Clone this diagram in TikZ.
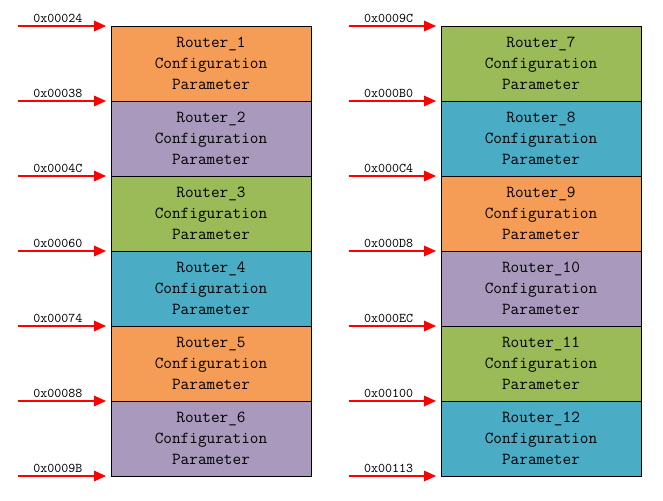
\documentclass[tikz,border=0pt]{standalone}
\usetikzlibrary{arrows.meta,positioning}
\definecolor{cfgorange}{RGB}{245,157,86}
\definecolor{cfgpurple}{RGB}{169,154,189}
\definecolor{cfggreen}{RGB}{155,187,89}
\definecolor{cfgblue}{RGB}{75,172,198}
\tikzset{
  cfg/.style={draw=black, line width=0.75pt, outer sep=0pt, inner sep=0pt,
    minimum width=150pt, minimum height=56.25pt, align=center,
    font=\ttfamily\fontsize{12.6}{15.75}\selectfont},
  addr/.style={red, line width=0.9pt, shorten >=3.75pt,
    -{Triangle[length=9pt,width=8pt]}},
  addrlbl/.style={pos=0.43, above, inner sep=2pt, text=black,
    font=\ttfamily\fontsize{10}{12}\selectfont}
}
\begin{document}
\begin{tikzpicture}[x=0.75pt,y=-0.75pt]
  \useasboundingbox (0,0) rectangle (663,500);
      % left column
      \node[cfg, fill=cfgorange, anchor=north west] (r1) at (111,26) {Router\_1\\Configuration\\Parameter};
      \node[cfg, fill=cfgpurple, below=0pt of r1] (r2) {Router\_2\\Configuration\\Parameter};
      \node[cfg, fill=cfggreen, below=0pt of r2] (r3) {Router\_3\\Configuration\\Parameter};
      \node[cfg, fill=cfgblue, below=0pt of r3] (r4) {Router\_4\\Configuration\\Parameter};
      \node[cfg, fill=cfgorange, below=0pt of r4] (r5) {Router\_5\\Configuration\\Parameter};
      \node[cfg, fill=cfgpurple, below=0pt of r5] (r6) {Router\_6\\Configuration\\Parameter};
      % right column
      \node[cfg, fill=cfggreen, anchor=north west] (r7) at (441,26) {Router\_7\\Configuration\\Parameter};
      \node[cfg, fill=cfgblue, below=0pt of r7] (r8) {Router\_8\\Configuration\\Parameter};
      \node[cfg, fill=cfgorange, below=0pt of r8] (r9) {Router\_9\\Configuration\\Parameter};
      \node[cfg, fill=cfgpurple, below=0pt of r9] (r10) {Router\_10\\Configuration\\Parameter};
      \node[cfg, fill=cfggreen, below=0pt of r10] (r11) {Router\_11\\Configuration\\Parameter};
      \node[cfg, fill=cfgblue, below=0pt of r11] (r12) {Router\_12\\Configuration\\Parameter};
      % address arrows, left
      \coordinate (s1) at (18,26);
      \coordinate (s2) at (18,101);
      \coordinate (s3) at (18,176);
      \coordinate (s4) at (18,251);
      \coordinate (s5) at (18,326);
      \coordinate (s6) at (18,401);
      \coordinate (s7) at (18,476);
      \draw[addr] (s1) -- node[addrlbl] (l1) {0x00024} (r1.north west);
      \draw[addr] (s2) -- node[addrlbl] (l2) {0x00038} (r2.north west);
      \draw[addr] (s3) -- node[addrlbl] (l3) {0x0004C} (r3.north west);
      \draw[addr] (s4) -- node[addrlbl] (l4) {0x00060} (r4.north west);
      \draw[addr] (s5) -- node[addrlbl] (l5) {0x00074} (r5.north west);
      \draw[addr] (s6) -- node[addrlbl] (l6) {0x00088} (r6.north west);
      \draw[addr] (s7) -- node[addrlbl] (l7) {0x0009B} (r6.south west);
      % address arrows, right
      \coordinate (t1) at (349,26);
      \coordinate (t2) at (349,101);
      \coordinate (t3) at (349,176);
      \coordinate (t4) at (349,251);
      \coordinate (t5) at (349,326);
      \coordinate (t6) at (349,401);
      \coordinate (t7) at (349,476);
      \draw[addr] (t1) -- node[addrlbl] (m1) {0x0009C} (r7.north west);
      \draw[addr] (t2) -- node[addrlbl] (m2) {0x000B0} (r8.north west);
      \draw[addr] (t3) -- node[addrlbl] (m3) {0x000C4} (r9.north west);
      \draw[addr] (t4) -- node[addrlbl] (m4) {0x000D8} (r10.north west);
      \draw[addr] (t5) -- node[addrlbl] (m5) {0x000EC} (r11.north west);
      \draw[addr] (t6) -- node[addrlbl] (m6) {0x00100} (r12.north west);
      \draw[addr] (t7) -- node[addrlbl] (m7) {0x00113} (r12.south west);
  \end{tikzpicture}
\end{document}
